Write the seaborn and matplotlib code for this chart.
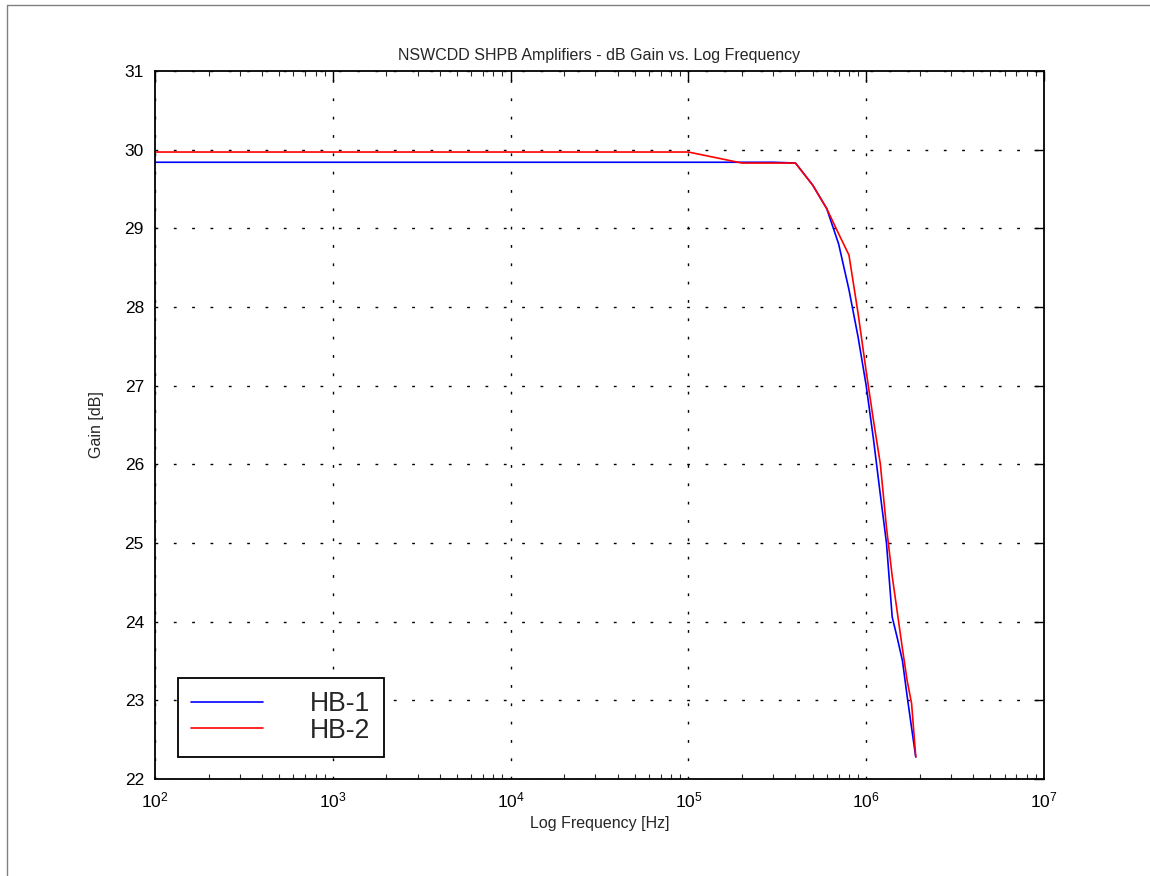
import matplotlib
matplotlib.use("Agg")
import matplotlib.pyplot as plt
import matplotlib.ticker as mticker
from matplotlib.lines import Line2D
import numpy as np
import pandas as pd
import seaborn as sns

# measured frequencies [Hz]
freq = [1e2, 1e3, 1e4, 1e5, 2e5, 3e5, 4e5, 5e5, 6e5, 7e5, 8e5, 9e5, 1.0e6,
        1.1e6, 1.2e6, 1.3e6, 1.4e6, 1.5e6, 1.6e6, 1.7e6, 1.8e6, 1.9e6]

gain_hb1 = [29.84, 29.84, 29.84, 29.84, 29.84, 29.84, 29.83, 29.55, 29.25, 28.80,
            28.22, 27.62, 27.00, 26.31, 25.62, 25.00, 24.06, 23.78, 23.50, 23.05,
            22.65, 22.28]

gain_hb2 = [29.97, 29.97, 29.97, 29.97, 29.83, 29.83, 29.83, 29.55, 29.25, 28.93,
            28.66, 27.92, 27.18, 26.55, 26.01, 25.20, 24.58, 24.10, 23.65, 23.25,
            22.96, 22.28]

labels = ["HB-1", "HB-2"]


def main():
    sns.set_theme(style="white")
    plt.rcParams["font.family"] = ["Liberation Sans", "DejaVu Sans"]
    plt.rcParams["mathtext.fontset"] = "custom"
    plt.rcParams["mathtext.rm"] = "Liberation Sans"
    plt.rcParams["mathtext.it"] = "Liberation Sans"

    df = pd.DataFrame({
        "freq": freq * 2,
        "gain": gain_hb1 + gain_hb2,
        "amp": [labels[0]] * len(freq) + [labels[1]] * len(freq),
    })

    fig = plt.figure(figsize=(11.5, 8.76), dpi=100)
    ax = fig.add_axes([155 / 1150, 97 / 876, 889 / 1150, 708 / 876])

    sns.lineplot(data=df, x="freq", y="gain", hue="amp",
                 palette={"HB-1": "#0000ff", "HB-2": "#ff0000"},
                 estimator=None, sort=False, linewidth=1.2, ax=ax)

    ax.set_xscale("log")
    ax.set_xlim(1e2, 1e7)
    ax.set_ylim(22, 31)
    ax.set_yticks(np.arange(22, 32, 1))
    ax.xaxis.set_major_locator(mticker.LogLocator(base=10, numticks=10))
    ax.xaxis.set_minor_locator(mticker.LogLocator(base=10, subs=np.arange(2, 10), numticks=10))
    ax.xaxis.set_minor_formatter(mticker.NullFormatter())

    ax.grid(True, which="major", color="black", linestyle=(0, (2, 11.2)), linewidth=1.0)
    ax.tick_params(axis="both", which="major", direction="in", length=7, width=1.0,
                   top=True, right=True, labelsize=12.5, colors="black", pad=8)
    ax.tick_params(axis="x", which="minor", direction="in", length=3.5, width=0.8,
                   top=True, bottom=True)
    for s in ax.spines.values():
        s.set_color("black")
        s.set_linewidth(1.3)

    ax.set_title("NSWCDD SHPB Amplifiers - dB Gain vs. Log Frequency", fontsize=11.5, pad=8)
    ax.set_xlabel("Log Frequency [Hz]", fontsize=11.5, labelpad=4)
    ax.set_ylabel("Gain [dB]", fontsize=11.5, labelpad=15)

    leg = ax.legend(loc="lower left", bbox_to_anchor=(0.026, 0.031), borderaxespad=0,
                    fontsize=19.2, frameon=True, fancybox=False, framealpha=1,
                    edgecolor="black", handlelength=2.7, handletextpad=1.75,
                    labelspacing=0.02, borderpad=0.5, title=None)
    leg.get_frame().set_linewidth(1.3)
    for h in leg.get_lines():
        h.set_linewidth(1.2)

    # thin grey frame round the whole figure
    fig.add_artist(Line2D([7 / 1150, 7 / 1150], [0, 1 - 5 / 876], transform=fig.transFigure,
                          color="#808080", linewidth=1.0))
    fig.add_artist(Line2D([7 / 1150, 1], [1 - 5 / 876, 1 - 5 / 876], transform=fig.transFigure,
                          color="#808080", linewidth=1.0))

    fig.savefig("out.png", dpi=100)
    plt.close()


if __name__ == "__main__":
    main()
